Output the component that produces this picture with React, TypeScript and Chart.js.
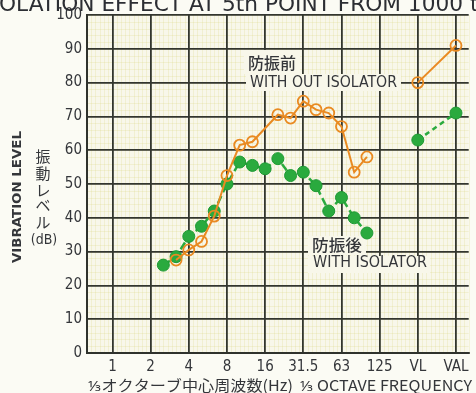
import React, { useEffect, useRef } from "react";
import { Chart, registerables } from "chart.js";
Chart.register(...registerables);

// x positions are 1/3-octave band indices counted from 1 Hz (1 Hz = 0, 2 Hz = 3, ...)
const TICK_POS = [0, 3, 6, 9, 12, 15, 18, 21, 24, 27];
const TICK_LABELS = ["1", "2", "4", "8", "16", "31.5", "63", "125", "VL", "VAL"];
const Y_TICKS = [0, 10, 20, 30, 40, 50, 60, 70, 80, 90, 100];

const BANDS = [4, 5, 6, 7, 8, 9, 10, 11, 12, 13, 14, 15, 16, 17, 18, 19, 20];
const WITHOUT_ISOLATOR = [null, 27.5, 30.5, 33, 40.5, 52.5, 61.5, 62.5, null, 70.5, 69.5, 74.5, 72, 71, 67, 53.5, 58];
const WITH_ISOLATOR = [26, 28.5, 34.5, 37.5, 42, 50, 56.5, 55.5, 54.5, 57.5, 52.5, 53.5, 49.5, 42, 46, 40, 35.5];

const OVERALL_POS = [24, 27];
const OVERALL_WITHOUT = [80, 91];
const OVERALL_WITH = [63, 71];

const TITLE = "ISOLATION EFFECT AT 5th POINT FROM 1000 ton";
const X_TITLE = "⅓オクターブ中心周波数(Hz)  ⅓ OCTAVE FREQUENCY";
const Y_TITLE_EN = "VIBRATION LEVEL";
const Y_TITLE_JA = ["振", "動", "レ", "ベ", "ル"];
const LABEL_BEFORE_JA = "防振前";
const LABEL_BEFORE_EN = "WITH OUT ISOLATOR";
const LABEL_AFTER_JA = "防振後";
const LABEL_AFTER_EN = "WITH ISOLATOR";

const FONT = "'Liberation Sans Narrow', 'DejaVu Sans Condensed', 'Roboto', 'Liberation Sans', sans-serif";
const JFONT = "'Noto Sans CJK JP', 'Noto Sans', sans-serif";
const TEXT = "#34363a";
const PLOT_BG = "#f8f7ea";
const PAGE_BG = "#fbfbf4";
const ORANGE = "#e98a22";
const GREEN = "#2aaa3e";

const toPts = (xs: number[], ys: (number | null)[]) => xs.map((x, i) => ({ x, y: ys[i] }));

function fitText(ctx: CanvasRenderingContext2D, text: string, x0: number, x1: number, yMid: number, font: string) {
  ctx.save();
  ctx.font = font;
  ctx.textBaseline = "middle";
  ctx.textAlign = "left";
  const w = ctx.measureText(text).width;
  const sx = (x1 - x0) / w;
  ctx.translate(x0, yMid);
  ctx.scale(sx, 1);
  ctx.fillText(text, 0, 0);
  ctx.restore();
}

const decorPlugin = {
  id: "decor",
  beforeDraw(chart: any) {
    const { ctx, chartArea, scales } = chart;
    const { left, top, right, bottom } = chartArea;
    const x = scales.x;
    const y = scales.y;
    ctx.save();
    ctx.fillStyle = PLOT_BG;
    ctx.fillRect(left, top, right - left, bottom - top);
    ctx.strokeStyle = "rgba(215,210,110,0.25)";
    ctx.lineWidth = 0.8;
    ctx.beginPath();
    for (let v = -2; v <= 28.01; v += 1 / 3) {
      const px = Math.round(x.getPixelForValue(v)) + 0.5;
      ctx.moveTo(px, top);
      ctx.lineTo(px, bottom);
    }
    for (let d = 0; d <= 100; d += 2) {
      const py = Math.round(y.getPixelForValue(d)) + 0.5;
      ctx.moveTo(left, py);
      ctx.lineTo(right, py);
    }
    ctx.stroke();
    ctx.restore();
  },
  beforeDatasetsDraw(chart: any) {
    const { ctx } = chart;
    ctx.save();
    // label knock-out boxes
    ctx.fillStyle = PLOT_BG;
    ctx.fillRect(244, 50, 56, 24);
    ctx.fillRect(246, 74, 155, 17);
    ctx.fillRect(308, 236, 58, 19);
    ctx.fillRect(308, 256, 122, 17);
    ctx.fillStyle = TEXT;
    fitText(ctx, LABEL_BEFORE_JA, 248, 296, 63, `500 16px ${JFONT}`);
    fitText(ctx, LABEL_BEFORE_EN, 250, 397, 83, `15px ${FONT}`);
    fitText(ctx, LABEL_AFTER_JA, 312, 362, 245, `500 16px ${JFONT}`);
    fitText(ctx, LABEL_AFTER_EN, 313, 427, 263, `15px ${FONT}`);
    ctx.restore();
  },
  afterDraw(chart: any) {
    const { ctx } = chart;
    ctx.save();
    ctx.fillStyle = "#2c2e33";
    // clipped title at the top
    ctx.font = `22px ${FONT}`;
    ctx.textBaseline = "alphabetic";
    const wIS = ctx.measureText("IS").width;
    const seg = ctx.measureText("OLATION EFFECT AT 5th POINT FROM 1000").width;
    const sx = 464 / seg;
    ctx.save();
    ctx.translate(-1 - wIS * sx, 11);
    ctx.scale(sx, 1);
    ctx.fillText(TITLE, 0, 0);
    ctx.restore();

    ctx.fillStyle = TEXT;
    // x-axis title
    fitText(ctx, X_TITLE, 88, 472, 385, `15px ${JFONT}`);
    // y-axis english title (rotated)
    ctx.save();
    ctx.translate(18, 197);
    ctx.rotate(-Math.PI / 2);
    fitText(ctx, Y_TITLE_EN, -66, 66, 0, `bold 13px ${FONT}`);
    ctx.restore();
    // y-axis japanese vertical title
    ctx.font = `15px ${JFONT}`;
    ctx.textAlign = "center";
    ctx.textBaseline = "middle";
    const ys = [156, 173, 190, 205, 222];
    Y_TITLE_JA.forEach((c, i) => ctx.fillText(c, 43, ys[i]));
    ctx.font = `14px ${FONT}`;
    ctx.fillText("(dB)", 44, 240);
    ctx.restore();
  },
};

export default function App() {
  const ref = useRef<HTMLCanvasElement | null>(null);
  useEffect(() => {
    if (!ref.current) return;
    const chart = new Chart(ref.current, {
      type: "line",
      data: {
        datasets: [
          {
            label: LABEL_BEFORE_EN,
            data: toPts(BANDS, WITHOUT_ISOLATOR),
            borderColor: ORANGE,
            borderWidth: 2,
            pointRadius: 5.5,
            pointBorderWidth: 1.8,
            pointBorderColor: ORANGE,
            pointBackgroundColor: "rgba(0,0,0,0)",
            spanGaps: true,
            tension: 0,
            order: 1,
          },
          {
            label: LABEL_BEFORE_EN + " overall",
            data: toPts(OVERALL_POS, OVERALL_WITHOUT),
            borderColor: ORANGE,
            borderWidth: 2,
            pointRadius: 5.5,
            pointBorderWidth: 1.8,
            pointBorderColor: ORANGE,
            pointBackgroundColor: "rgba(0,0,0,0)",
            tension: 0,
            order: 1,
          },
          {
            label: LABEL_AFTER_EN,
            data: toPts(BANDS, WITH_ISOLATOR),
            borderColor: GREEN,
            borderWidth: 2.5,
            borderDash: [8, 4],
            pointRadius: 6,
            pointBorderWidth: 1,
            pointBorderColor: "#1f9a34",
            pointBackgroundColor: GREEN,
            tension: 0,
            order: 2,
          },
          {
            label: LABEL_AFTER_EN + " overall",
            data: toPts(OVERALL_POS, OVERALL_WITH),
            borderColor: GREEN,
            borderWidth: 2.5,
            borderDash: [5, 4],
            pointRadius: 6,
            pointBorderWidth: 1,
            pointBorderColor: "#1f9a34",
            pointBackgroundColor: GREEN,
            tension: 0,
            order: 2,
          },
        ],
      },
      options: {
        animation: false,
        responsive: false,
        maintainAspectRatio: false,
        layout: { padding: { top: 15, left: 0, right: 0, bottom: 0 } },
        plugins: { legend: { display: false }, tooltip: { enabled: false }, title: { display: false } },
        scales: {
          x: {
            type: "linear",
            min: -2,
            max: 28,
            afterBuildTicks: (s: any) => {
              s.ticks = TICK_POS.map((v) => ({ value: v }));
            },
            afterFit: (s: any) => {
              s.height = 40;
            },
            ticks: {
              autoSkip: false,
              maxRotation: 0,
              padding: 5,
              color: TEXT,
              font: { family: FONT, size: 15 },
              callback: (v: any) => {
                const i = TICK_POS.indexOf(Number(v));
                return i >= 0 ? TICK_LABELS[i] : "";
              },
            },
            grid: { color: "#33362f", lineWidth: 1.8, drawTicks: false },
            border: { display: true, color: "#2f322c", width: 2 },
          },
          y: {
            type: "linear",
            min: 0,
            max: 100,
            afterBuildTicks: (s: any) => {
              s.ticks = Y_TICKS.map((v) => ({ value: v }));
            },
            afterFit: (s: any) => {
              s.width = 87;
            },
            ticks: {
              padding: 5,
              color: TEXT,
              font: { family: FONT, size: 15 },
            },
            grid: { color: "#33362f", lineWidth: 1.8, drawTicks: false },
            border: { display: true, color: "#2f322c", width: 2 },
          },
        },
      },
      plugins: [decorPlugin],
    } as any);
    return () => chart.destroy();
  }, []);
  return (
    <div style={{ position: "fixed", left: 0, top: 0, width: 476, height: 393, background: PAGE_BG, overflow: "hidden" }}>
      <canvas ref={ref} width={476} height={393} style={{ width: 476, height: 393, display: "block" }} />
    </div>
  );
}
